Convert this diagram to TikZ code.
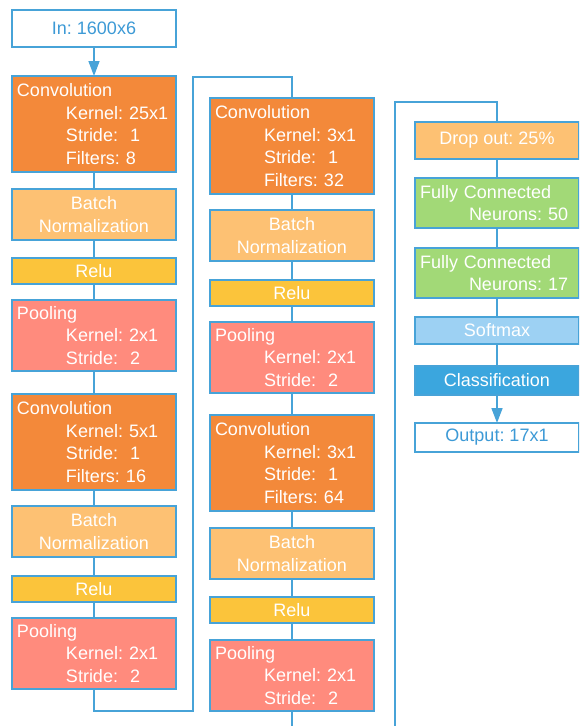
\documentclass[tikz,border=0pt]{standalone}
\usepackage{fontspec}
\setmainfont{Liberation Sans}
\usetikzlibrary{arrows.meta}

\definecolor{edgeblue}{HTML}{47A3D8}
\definecolor{labelblue}{HTML}{3D9AD6}
\definecolor{convfill}{HTML}{F3893A}
\definecolor{normfill}{HTML}{FDC173}
\definecolor{relufill}{HTML}{FBC43B}
\definecolor{poolfill}{HTML}{FF8B7D}
\definecolor{fcfill}{HTML}{A2D977}
\definecolor{softfill}{HTML}{9DD1F3}
\definecolor{classfill}{HTML}{3BA6DE}

\begin{document}
\begin{tikzpicture}[x=1pt, y=-1pt,
  layer/.style={draw=edgeblue, line width=1.6pt, minimum width=164pt,
    anchor=north west, outer sep=0pt, inner xsep=5pt, inner ysep=0pt,
    font=\fontsize{18}{22.5}\selectfont\frenchspacing, text=white},
  multi/.style={layer, text width=156pt, inner xsep=4pt, align=left},
  centred/.style={layer, align=center},
  io/.style={centred, fill=white, text=labelblue, minimum height=37pt},
  convbox/.style={multi, fill=convfill, minimum height=96pt},
  poolbox/.style={multi, fill=poolfill, minimum height=71pt},
  normbox/.style={centred, fill=normfill, minimum height=51pt},
  relubox/.style={centred, fill=relufill, minimum height=26pt},
  fcbox/.style={multi, fill=fcfill, minimum height=50pt},
  link/.style={draw=edgeblue, line width=1.6pt},
  flow/.style={link, -{Triangle[width=11pt,length=15pt]}}
]
\useasboundingbox (0,0) rectangle (579,726);
\clip (0,0) rectangle (579,726);

\newcommand{\ind}{\hspace*{50pt}}
\newcommand{\lead}{\hspace*{1pt}}

% first column
\node[io] (in) at (12,10) {In: 1600x6};
\node[convbox] (c1) at (12,76)
  {\lead Convolution\\\ind Kernel: 25x1\\\ind Stride:\ \ 1\\\ind Filters: 8};
\node[normbox] (n1) at (12,189) {Batch\\Normalization};
\node[relubox] (r1) at (12,258) {Relu};
\node[poolbox] (p1) at (12,300)
  {\lead Pooling\\\ind Kernel: 2x1\\\ind Stride:\ \ 2};
\node[convbox] (c2) at (12,394)
  {\lead Convolution\\\ind Kernel: 5x1\\\ind Stride:\ \ 1\\\ind Filters: 16};
\node[normbox] (n2) at (12,506) {Batch\\Normalization};
\node[relubox] (r2) at (12,576) {Relu};
\node[poolbox] (p2) at (12,618)
  {\lead Pooling\\\ind Kernel: 2x1\\\ind Stride:\ \ 2};

% second column
\node[convbox] (c3) at (210,98)
  {\lead Convolution\\\ind Kernel: 3x1\\\ind Stride:\ \ 1\\\ind Filters: 32};
\node[normbox] (n3) at (210,210) {Batch\\Normalization};
\node[relubox] (r3) at (210,280) {Relu};
\node[poolbox] (p3) at (210,322)
  {\lead Pooling\\\ind Kernel: 2x1\\\ind Stride:\ \ 2};
\node[convbox] (c4) at (210,415)
  {\lead Convolution\\\ind Kernel: 3x1\\\ind Stride:\ \ 1\\\ind Filters: 64};
\node[normbox] (n4) at (210,528) {Batch\\Normalization};
\node[relubox] (r4) at (210,597) {Relu};
\node[poolbox] (p4) at (210,640)
  {\lead Pooling\\\ind Kernel: 2x1\\\ind Stride:\ \ 2};

% third column
\node[centred, fill=normfill, minimum height=37pt] (drop) at (415,122) {Drop out: 25\%};
\node[fcbox] (f1) at (415,178) {\lead Fully Connected\\\ind Neurons: 50};
\node[fcbox] (f2) at (415,248) {\lead Fully Connected\\\ind Neurons: 17};
\node[centred, fill=softfill, minimum height=27pt] (soft) at (415,317) {Softmax};
\node[centred, fill=classfill, minimum height=29pt] (cls) at (415,366) {Classification};
\node[io, minimum height=29pt] (out) at (415,423) {Output: 17x1};

% turning points between the columns
\coordinate (t1) at (193,711);
\coordinate (t2) at (193,77);
\coordinate (b2) at (292,750);
\coordinate (b3) at (395,750);
\coordinate (t3) at (395,102);

% connectors
\draw[flow] (in) -- (c1);
\draw[link] (c1) -- (n1);
\draw[link] (n1) -- (r1);
\draw[link] (r1) -- (p1);
\draw[link] (p1) -- (c2);
\draw[link] (c2) -- (n2);
\draw[link] (n2) -- (r2);
\draw[link] (r2) -- (p2);
\draw[link] (p2.south) |- (t1) -- (t2) -| (c3.north);
\draw[link] (c3) -- (n3);
\draw[link] (n3) -- (r3);
\draw[link] (r3) -- (p3);
\draw[link] (p3) -- (c4);
\draw[link] (c4) -- (n4);
\draw[link] (n4) -- (r4);
\draw[link] (r4) -- (p4);
\draw[link] (p4.south) |- (b2) -- (b3) -- (t3) -| (drop.north);
\draw[link] (drop) -- (f1);
\draw[link] (f1) -- (f2);
\draw[link] (f2) -- (soft);
\draw[link] (soft) -- (cls);
\draw[flow] (cls) -- (out);
\end{tikzpicture}
\end{document}
